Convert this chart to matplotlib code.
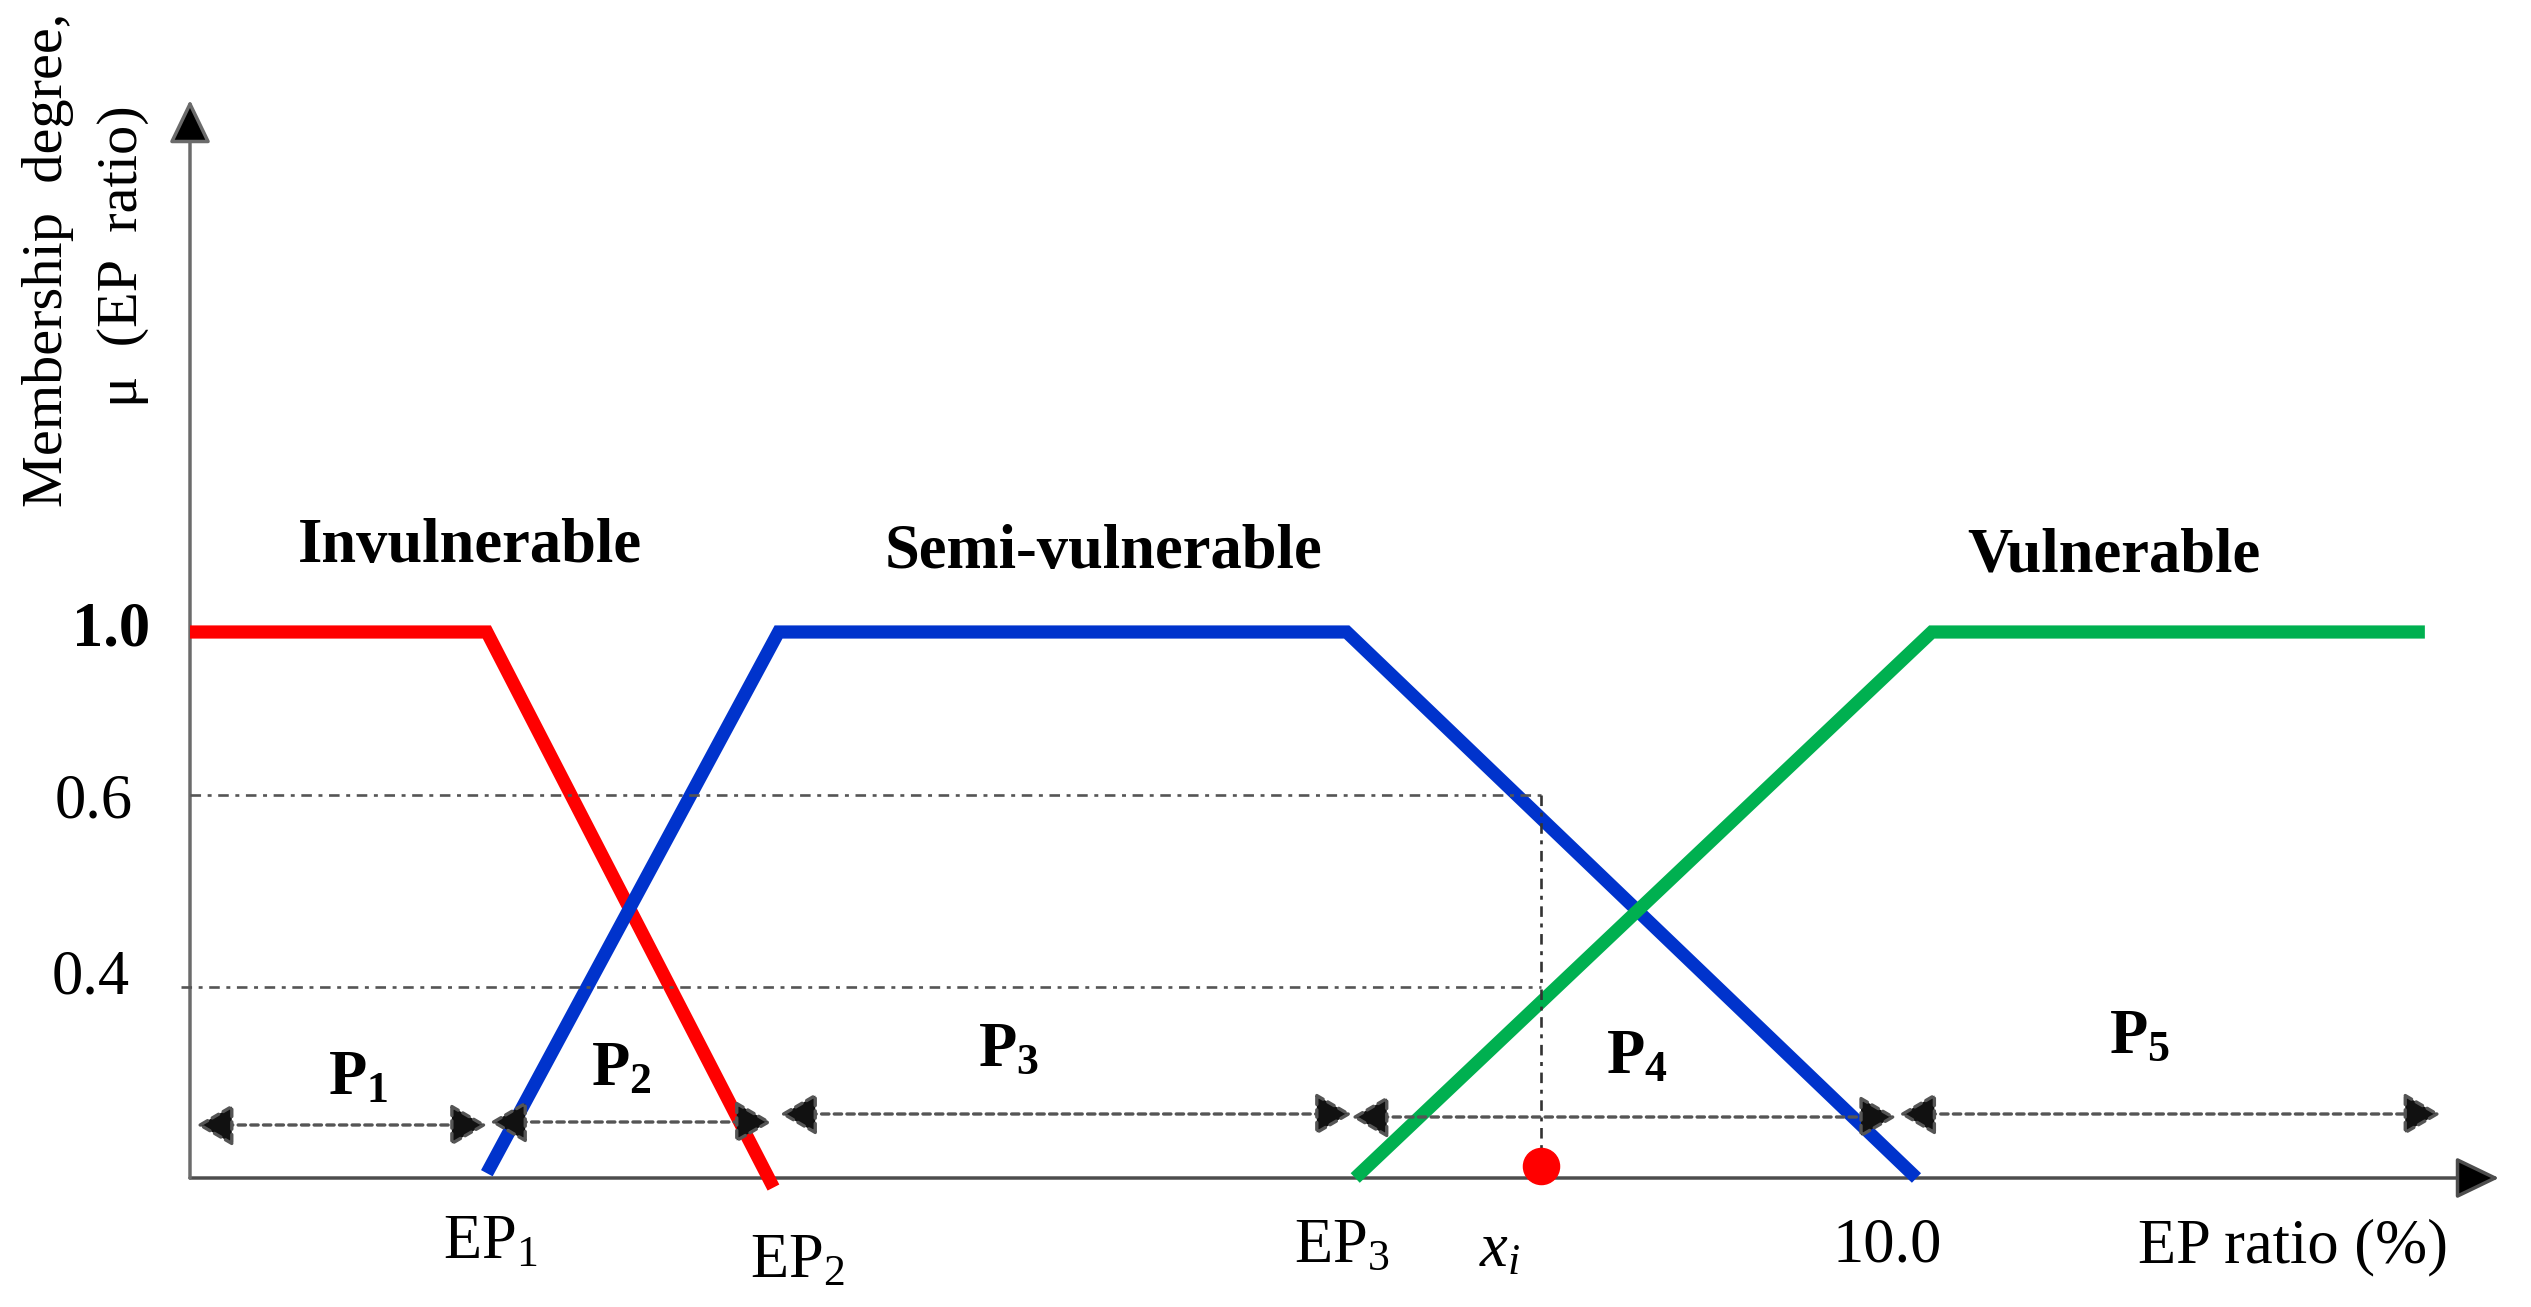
import numpy as np
import matplotlib
matplotlib.use("Agg")
import matplotlib.pyplot as plt

# ---------------- data ----------------
invul_x = [0.0, 1.74, 3.42]
invul_y = [1.0, 1.0, -0.02]
semi_x = [1.74, 3.45, 6.78, 10.12]
semi_y = [0.01, 1.0, 1.0, 0.0]
vul_x = [6.83, 10.21, 13.10]
vul_y = [0.0, 1.0, 1.0]

x_i = 7.92
mu_levels = [0.6, 0.4]

ytick_vals = [1.0, 0.6, 0.4]
ytick_labels = ["1.0", "0.6", "0.4"]

xtick_labels = [r"$\mathrm{EP}_{1}$", r"$\mathrm{EP}_{2}$", r"$\mathrm{EP}_{3}$", r"$x_i$", "10.0"]
xlabel = "EP ratio (%)"
ylabel_lines = ["Membership  degree,", "\u03bc  (EP  ratio)"]

class_names = ["Invulnerable", "Semi-vulnerable", "Vulnerable"]

part_labels = [r"$\mathbf{P}_{\mathbf{1}}$", r"$\mathbf{P}_{\mathbf{2}}$", r"$\mathbf{P}_{\mathbf{3}}$",
               r"$\mathbf{P}_{\mathbf{4}}$", r"$\mathbf{P}_{\mathbf{5}}$"]
part_starts = [0.04, 1.76, 3.46, 6.81, 10.02]
part_ends = [1.74, 3.41, 6.81, 10.00, 13.19]

# ---------------- style ----------------
plt.rcParams["font.family"] = ["Liberation Serif", "DejaVu Serif"]
plt.rcParams["mathtext.fontset"] = "custom"
plt.rcParams["mathtext.rm"] = "Liberation Serif"
plt.rcParams["mathtext.it"] = "Liberation Serif:italic"
plt.rcParams["mathtext.bf"] = "Liberation Serif:bold"

W, H, DPI = 2531, 1307, 100
fig = plt.figure(figsize=(W / DPI, H / DPI), dpi=DPI)
ax = fig.add_axes([0, 0, 1, 1])

# pixel layout of the schematic
X0, XS, Y0 = 190.0, 170.6, 1178.0
YV = [-3.0, 0.0, 0.4, 0.6, 1.0, 4.0]
YP = [-3 * 477.5, 0.0, 191.0, 383.0, 546.0, 546.0 + 3 * 407.5]


def fwd(v):
    return np.interp(v, YV, YP)


def inv(p):
    return np.interp(p, YP, YV)


def fx(px):
    return (px - X0) / XS


def fy(py):
    return inv(Y0 - py)


ax.set_yscale("function", functions=(fwd, inv))
ax.set_xlim(fx(0), fx(W))
ax.set_ylim(fy(H), fy(0))
ax.axis("off")

LW = 9.5
ax.plot(invul_x, invul_y, color="#ff0000", lw=LW, solid_capstyle="butt", solid_joinstyle="miter", zorder=3)
ax.plot(semi_x, semi_y, color="#0033cc", lw=LW, solid_capstyle="butt", solid_joinstyle="miter", zorder=3)
ax.plot(vul_x, vul_y, color="#00b050", lw=LW, solid_capstyle="butt", solid_joinstyle="miter", zorder=3)

# axes arrows
axis_tip_x = fx(2499)
axis_tip_y = fy(100)
ax.annotate("", xy=(axis_tip_x, 0), xytext=(0, 0),
            arrowprops=dict(arrowstyle="-|>,head_length=1.35,head_width=0.65", mutation_scale=20,
                            lw=2.5, color="#4d4d4d", fc="black", ec="#4d4d4d", shrinkA=0, shrinkB=0),
            zorder=2)
ax.annotate("", xy=(0, axis_tip_y), xytext=(0, 0),
            arrowprops=dict(arrowstyle="-|>,head_length=1.35,head_width=0.65", mutation_scale=20,
                            lw=2.5, color="#6b6b6b", fc="black", ec="#6b6b6b", shrinkA=0, shrinkB=0),
            zorder=2)

# dash-dot guide lines
dd = (0, (4, 2.5, 1.5, 2.5))
ax.plot([0, x_i], [mu_levels[0], mu_levels[0]], color="#555555", lw=1.9, ls=dd, zorder=4)
ax.plot([-0.05, x_i], [mu_levels[1], mu_levels[1]], color="#555555", lw=1.9, ls=dd, zorder=4)
ax.plot([x_i, x_i], [mu_levels[0], 0.03], color="#333333", lw=1.9, ls=dd, zorder=4)
ax.plot([x_i], [fy(1166)], "o", ms=26, color="#ff0000", mec="#ff0000", zorder=5)

# partition arrows
part_y = [fy(1125), fy(1122), fy(1114), fy(1117), fy(1114)]
for s, e, yy in zip(part_starts, part_ends, part_y):
    ax.annotate("", xy=(e, yy), xytext=(s, yy),
                arrowprops=dict(arrowstyle="<|-|>,head_length=1.2,head_width=0.7", mutation_scale=19,
                                lw=2.4, ls=(0, (2.2, 1.6)), color="#555555", fc="#111111", ec="#555555",
                                shrinkA=0, shrinkB=0),
                zorder=6)

FS = 45
# partition labels
part_lx = [358, 621, 1009, 1637, 2140]
part_ly = [1094, 1085, 1066, 1073, 1053]
for lab, px, py in zip(part_labels, part_lx, part_ly):
    ax.text(fx(px), fy(py), lab, fontsize=FS, ha="center", va="baseline", zorder=7)

# class names
cls_x = [470, 1103, 2114]
cls_y = [562, 568, 572]
for lab, px, py in zip(class_names, cls_x, cls_y):
    ax.text(fx(px), fy(py), lab, fontsize=FS, fontweight="bold", ha="center", va="baseline")

# y tick labels
ytl_right = [150, 133, 130]
ytl_base = [645, 817, 993]
for lab, px, py in zip(ytick_labels, ytl_right, ytl_base):
    ax.text(fx(px), fy(py), lab, fontsize=FS, ha="right", va="baseline",
            fontweight="bold" if lab == "1.0" else "normal")

# x tick labels
xtl_x = [490, 797, 1342, 1500, 1887]
xtl_y = [1258, 1277, 1262, 1266, 1262]
for lab, px, py in zip(xtick_labels, xtl_x, xtl_y):
    ax.text(fx(px), fy(py), lab, fontsize=FS, ha="center", va="baseline")
ax.text(fx(2293), fy(1262), xlabel, fontsize=FS, ha="center", va="baseline")

# y label (two lines, rotated)
ax.text(fx(62), fy(260), ylabel_lines[0], fontsize=42, rotation=90, rotation_mode="anchor",
        ha="center", va="baseline")
ax.text(fx(137), fy(256), ylabel_lines[1], fontsize=42, rotation=90, rotation_mode="anchor",
        ha="center", va="baseline")

fig.savefig("out.png", dpi=DPI)
